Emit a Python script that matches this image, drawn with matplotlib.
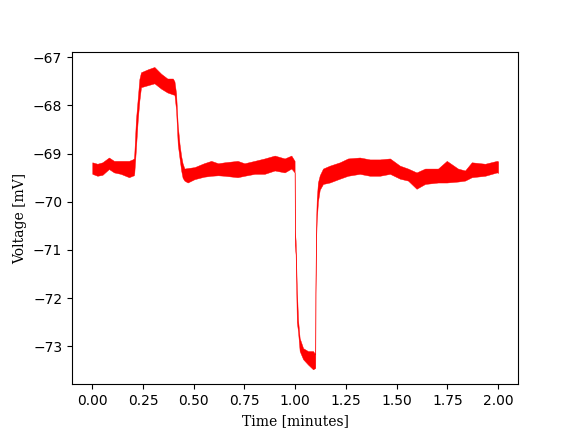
import numpy as np
import matplotlib.pyplot as plt

time = [0.0, 0.025, 0.05, 0.082, 0.107, 0.14, 0.181, 0.198, 0.205,
        0.207, 0.215, 0.224, 0.232, 0.24, 0.273, 0.306, 0.339, 0.37, 0.397, 0.405,
        0.413, 0.421, 0.43, 0.438, 0.445, 0.454, 0.47, 0.504, 0.55, 0.586, 0.62, 0.652,
        0.716, 0.75, 0.80, 0.849, 0.899, 0.948, 0.981, 0.997,
        0.998, 1.002, 1.008, 1.014, 1.022, 1.039, 1.063, 1.088, 1.099,
        1.100, 1.103, 1.106, 1.112, 1.121, 1.137, 1.17, 1.22, 1.26, 1.318, 1.368,
        1.417, 1.467, 1.516, 1.556, 1.598, 1.64, 1.704, 1.747, 1.802, 1.837, 1.87,
        1.936, 1.994, 2.0]
upper = [-69.18, -69.21, -69.18, -69.08, -69.15, -69.15, -69.15, -69.12, -69.10,
         -69.00, -68.30, -67.85, -67.45, -67.31, -67.25, -67.20, -67.34, -67.44, -67.44, -67.50,
         -67.75, -68.40, -68.80, -69.05, -69.20, -69.31, -69.30, -69.28, -69.20, -69.15, -69.20, -69.18,
         -69.15, -69.20, -69.15, -69.10, -69.04, -69.10, -69.04, -69.15,
         -70.60, -70.80, -71.80, -72.45, -72.83, -73.04, -73.10, -73.10, -73.17,
         -71.50, -70.40, -69.95, -69.60, -69.45, -69.31, -69.25, -69.18, -69.10, -69.08, -69.12,
         -69.12, -69.10, -69.25, -69.31, -69.39, -69.31, -69.31, -69.15, -69.31, -69.35, -69.18,
         -69.21, -69.15, -69.16]
lower = [-69.42, -69.46, -69.44, -69.32, -69.39, -69.42, -69.49, -69.46, -69.45,
         -69.40, -68.90, -68.30, -67.90, -67.62, -67.58, -67.54, -67.65, -67.73, -67.77, -67.78,
         -68.10, -68.80, -69.10, -69.35, -69.50, -69.56, -69.60, -69.53, -69.48, -69.46, -69.45, -69.46,
         -69.49, -69.46, -69.42, -69.42, -69.35, -69.39, -69.31, -69.39,
         -70.90, -71.10, -72.50, -72.70, -73.10, -73.27, -73.38, -73.48, -73.45,
         -71.90, -70.80, -70.40, -70.00, -69.75, -69.63, -69.60, -69.52, -69.46, -69.42, -69.46,
         -69.46, -69.42, -69.52, -69.56, -69.73, -69.63, -69.60, -69.60, -69.58, -69.56, -69.49,
         -69.46, -69.39, -69.40]

fig, ax = plt.subplots(figsize=(5.76, 4.32), dpi=100)
ax.fill_between(time, lower, upper, color='red', linewidth=0.3, edgecolor='red')
ax.set_xlabel('Time [minutes]', family='serif')
ax.set_ylabel('Voltage [mV]', family='serif')
ax.set_xticks(np.arange(0, 2.01, 0.25))

plt.savefig('out.png', dpi=100)
plt.close()
